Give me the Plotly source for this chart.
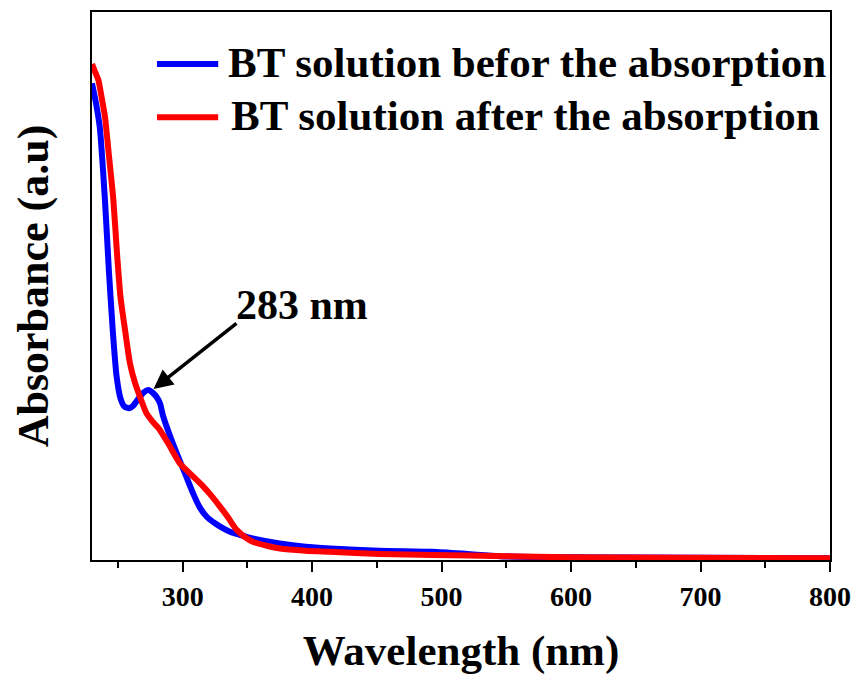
import plotly.graph_objects as go

# UV-Vis absorbance spectra of the BT solution
wl_before = [230, 233, 236, 240, 243, 246, 249, 252, 255, 258.8, 262, 266, 270, 273.5, 277, 280, 282.5,
             285, 290, 295.4, 302, 308, 313, 318.6, 325, 331, 337, 344, 355, 375, 395, 414,
             452, 493, 520, 545, 600, 700, 800]
abs_before = [0.870, 0.835, 0.790, 0.657, 0.530, 0.420, 0.335, 0.295, 0.280, 0.277, 0.282, 0.295,
              0.306, 0.310, 0.305, 0.297, 0.286, 0.262, 0.228, 0.195, 0.157, 0.122, 0.097, 0.079,
              0.067, 0.058, 0.051, 0.046, 0.039, 0.030, 0.024, 0.021, 0.017, 0.015, 0.011, 0.007,
              0.005, 0.004, 0.003]

wl_after = [230, 232, 234.9, 237, 240, 243, 246.5, 249.3, 252, 255.5, 259.3, 263, 267, 272, 277,
            282.5, 290, 298, 307, 316, 322, 329, 335, 341.7, 348, 354.6, 365, 375, 395, 414,
            452, 493, 550, 596, 700, 800]
abs_after = [0.905, 0.893, 0.876, 0.850, 0.809, 0.740, 0.657, 0.560, 0.480, 0.420, 0.359, 0.325,
             0.298, 0.268, 0.252, 0.237, 0.208, 0.176, 0.155, 0.134, 0.118, 0.097, 0.078, 0.055,
             0.042, 0.033, 0.026, 0.021, 0.017, 0.015, 0.011, 0.009, 0.007, 0.005, 0.004, 0.003]

series_names = ["BT solution befor the absorption", "BT solution after the absorption"]
series_colors = ["#0000ff", "#ff0000"]

peak_label = "283 nm"
peak_point = (276.3, 0.31)

x_ticks = [300, 400, 500, 600, 700, 800]
x_minor_ticks = [250, 350, 450, 550, 650, 750]

FONT = "Times New Roman, Liberation Serif, serif"

fig = go.Figure()
fig.add_trace(go.Scatter(x=wl_before, y=abs_before, mode="lines", name=series_names[0],
                         line=dict(color=series_colors[0], width=6, shape="spline", smoothing=0.6),
                         showlegend=False))
fig.add_trace(go.Scatter(x=wl_after, y=abs_after, mode="lines", name=series_names[1],
                         line=dict(color=series_colors[1], width=6, shape="spline", smoothing=0.6),
                         showlegend=False))

# Legend drawn as line samples + labels inside the plot frame
legend_rows = [(0.905, 0.182), (0.808, 0.186)]
shapes = []
annotations = []
for (yp, xt), name, color in zip(legend_rows, series_names, series_colors):
    shapes.append(dict(type="line", xref="paper", yref="paper", x0=0.088, x1=0.171, y0=yp, y1=yp,
                       line=dict(color=color, width=6)))
    annotations.append(dict(xref="paper", yref="paper", x=xt, y=yp + 0.003, text=f"<b>{name}</b>",
                            showarrow=False, xanchor="left", yanchor="middle",
                            font=dict(family=FONT, size=43, color="black")))

# Peak marker arrow and label
annotations.append(dict(x=peak_point[0], y=peak_point[1], xref="x", yref="y", text="",
                        showarrow=True, arrowhead=2, arrowsize=1.1, arrowwidth=3.5,
                        arrowcolor="black", ax=86, ay=-68, standoff=2))
annotations.append(dict(xref="paper", yref="paper", x=(302 - 92) / 738, y=(560 - 305) / 548,
                        text=f"<b>{peak_label}</b>", showarrow=False, xanchor="center",
                        yanchor="middle", font=dict(family=FONT, size=42, color="black")))

fig.update_layout(
    width=856, height=675,
    margin=dict(l=92, r=26, t=12, b=115),
    paper_bgcolor="white", plot_bgcolor="white",
    shapes=shapes, annotations=annotations,
    xaxis=dict(range=[230, 800], tickvals=x_ticks, ticks="outside", ticklen=10, tickwidth=1.6,
               tickcolor="black", showline=True, linecolor="black", linewidth=2, mirror=True,
               showgrid=False, zeroline=False, automargin=False,
               minor=dict(tickvals=x_minor_ticks, ticks="outside", ticklen=6,
                          tickwidth=1.6, tickcolor="black", showgrid=False),
               tickfont=dict(family=FONT, size=28, color="black", weight="bold"),
               title=dict(text="<b>Wavelength (nm)</b>", font=dict(family=FONT, size=43, color="black"),
                          standoff=28)),
    yaxis=dict(range=[0, 1.0], showticklabels=False, ticks="", showline=True, linecolor="black",
               linewidth=2, mirror=True, showgrid=False, zeroline=False, automargin=False,
               title=dict(text="<b>Absorbance (a.u)</b>", font=dict(family=FONT, size=44, color="black"),
                          standoff=28)),
)

fig.write_html("out.html")
